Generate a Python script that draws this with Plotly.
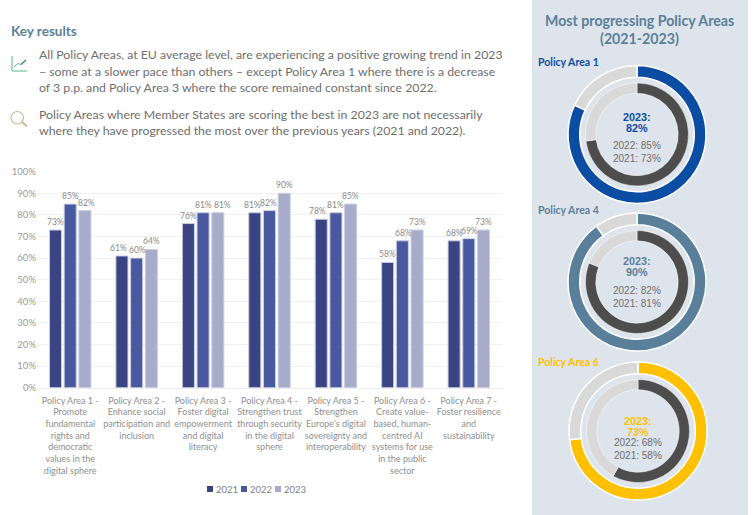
import plotly.graph_objects as go

W, H = 754, 515

categories = [
    "Policy Area 1 -<br>Promote<br>fundamental<br>rights and<br>democratic<br>values in the<br>digital sphere",
    "Policy Area 2 -<br>Enhance social<br>participation and<br>inclusion",
    "Policy Area 3 -<br>Foster digital<br>empowerment<br>and digital<br>literacy",
    "Policy Area 4 -<br>Strengthen trust<br>through security<br>in the digital<br>sphere",
    "Policy Area 5 -<br>Strengthen<br>Europe's digital<br>sovereignty and<br>interoperability",
    "Policy Area 6 -<br>Create value-<br>based, human-<br>centred AI<br>systems for use<br>in the public<br>sector",
    "Policy Area 7 -<br>Foster resilience<br>and<br>sustainability",
]
values_2021 = [73, 61, 76, 81, 78, 58, 68]
values_2022 = [85, 60, 81, 82, 81, 68, 69]
values_2023 = [82, 64, 81, 90, 85, 73, 73]
series_names = ["2021", "2022", "2023"]
series_colors = ["#3A4483", "#4A58A0", "#A8ACCB"]

highlight_index = [0, 3, 5]
highlight_names = ["Policy Area 1", "Policy Area 4", "Policy Area 6"]
highlight_colors = ["#0B4DA2", "#5A7F9B", "#FFC000"]

heading = "Key results"
body_lines = [
    ("All Policy Areas, at EU average level, are experiencing a positive growing trend in 2023", 55),
    ("– some at a slower pace than others – except Policy Area 1 where there is a decrease", 71),
    ("of 3 p.p. and Policy Area 3 where the score remained constant since 2022.", 87),
    ("Policy Areas where Member States are scoring the best in 2023 are not necessarily", 114.5),
    ("where they have progressed the most over the previous years (2021 and 2022).", 130.5),
]

# Hand-placed sideways nudges of the reference's data labels, in pixels
label_nudge_2021 = [0, -3, 0, -2, -3.5, 0, 0]
label_nudge_2022 = [0, 1, 0, -1, 0, 1, 1]
label_nudge_2023 = [2, 0, 5, 0, 0, 0, 0]
BAR_PITCH = 14.7

FONT = "Lato"
fx = lambda x: x / W
fy = lambda y: 1 - y / H

fig = go.Figure()

anns = []
def text(x, y, s, size, color, bold=False, anchor="left", family=FONT):
    anns.append(dict(
        x=fx(x), y=fy(y), xref="paper", yref="paper", text=f"<b>{s}</b>" if bold else s,
        showarrow=False, xanchor=anchor, yanchor="middle",
        font=dict(family=family, size=size, color=color), borderpad=0,
    ))

all_values = [values_2021, values_2022, values_2023]
all_nudges = [label_nudge_2021, label_nudge_2022, label_nudge_2023]
for i, (name, vals, col, nudges) in enumerate(zip(series_names, all_values, series_colors, all_nudges)):
    fig.add_trace(go.Bar(
        x=categories, y=vals, name=name,
        marker=dict(color=col, line=dict(color="#C9CDE3", width=1)),
        cliponaxis=False, showlegend=False,
    ))
    for cat, v, dx in zip(categories, vals, nudges):
        anns.append(dict(
            x=cat, y=v, xref="x", yref="y", text=f"{v}%", showarrow=False,
            xanchor="center", yanchor="bottom", xshift=(i - 1) * BAR_PITCH + dx, yshift=2,
            font=dict(family=FONT, size=8.5, color="#8A8A8A"), borderpad=0,
        ))

# Donuts: outer ring = 2023, inner ring = 2021
centers = [(637, 134.5), (637, 282), (638, 431)]
R_OUT, R_IN = 69, 51.5
for (cx, cy), idx, col in zip(centers, highlight_index, highlight_colors):
    for r, hole, v, c, lw in [
        (R_OUT, 0.83, values_2023[idx], col, 1.5),
        (R_IN, 0.80, values_2021[idx], "#4D4D4D", 0.5),
    ]:
        fig.add_trace(go.Pie(
            values=[v, 100 - v], hole=hole, sort=False, direction="clockwise", rotation=0,
            marker=dict(colors=[c, "#D9D9D9"], line=dict(color="white", width=lw)),
            textinfo="none", hoverinfo="skip", showlegend=False,
            domain=dict(x=[fx(cx - r), fx(cx + r)], y=[fy(cy + r), fy(cy - r)]),
        ))

text(10, 31, heading, 13.5, "#5B7F9A", bold=True)
for s, y in body_lines:
    text(38, y, s, 12.3, "#6E6E6E")

text(639.5, 21, "Most progressing Policy Areas", 14.2, "#5B7F9A", True, "center")
text(639.5, 39, "(2021-2023)", 14.2, "#5B7F9A", True, "center")

ARIAL = "Liberation Sans"
label_pos = [(62, 116.5, 127.5, 145, 158), (210, 261, 272, 290, 303), (362, 421, 432, 442.5, 455)]
for (ly, y1, y2, y3, y4), idx, name, col, (cx, cy) in zip(label_pos, highlight_index, highlight_names, highlight_colors, centers):
    text(537, ly, name, 10.5, col, True)
    text(cx, y1, "2023:", 10.8, col, True, "center", ARIAL)
    text(cx, y2, f"{values_2023[idx]}%", 10.8, col, True, "center", ARIAL)
    text(cx, y3, f"2022: {values_2022[idx]}%", 10, "#6E6E6E", False, "center", ARIAL)
    text(cx, y4, f"2021: {values_2021[idx]}%", 10, "#6E6E6E", False, "center", ARIAL)

def seg(x0, y0, x1, y1, color, width=1.0):
    return dict(type="line", xref="paper", yref="paper", x0=fx(x0), y0=fy(y0), x1=fx(x1), y1=fy(y1),
                line=dict(color=color, width=width), layer="above")

green = "#5DB585"
tan = "#C9B99A"
shapes = [
    dict(type="rect", xref="paper", yref="paper", x0=fx(532), x1=fx(748), y0=0, y1=1,
         fillcolor="#DEE4EB", line=dict(width=0), layer="below"),
    seg(12, 56, 12, 71, green), seg(12, 71, 27, 71, green),
    seg(14, 67, 18, 63.5, green), seg(18, 63.5, 21, 64.5, green), seg(21, 64.5, 26, 60, "#3E8E63", 1.5),
    dict(type="circle", xref="paper", yref="paper", x0=fx(11), x1=fx(23.5), y0=fy(124), y1=fy(111.5),
         line=dict(color=tan, width=1.2), layer="above"),
    seg(22, 122, 27, 126.5, tan, 2),
]

# Compact legend matching the reference's small swatches
for i, (name, col) in enumerate(zip(series_names, series_colors)):
    lx = 207 + 34 * i
    shapes.append(dict(type="rect", xref="paper", yref="paper", x0=fx(lx), x1=fx(lx + 6), y0=fy(492), y1=fy(486),
                       fillcolor=col, line=dict(width=0), layer="above"))
    text(lx + 8, 489, name, 9.5, "#808080")

fig.update_layout(
    width=W, height=H, autosize=False,
    margin=dict(l=0, r=0, t=0, b=0),
    paper_bgcolor="white", plot_bgcolor="white",
    font=dict(family=FONT), showlegend=False,
    barmode="group", bargap=0.336, bargroupgap=0.18,
    xaxis=dict(domain=[fx(37), fx(502)], tickfont=dict(family=FONT, size=9, color="#8F8F8F"),
               tickangle=0, showgrid=False, linecolor="#EDEDED", linewidth=1, ticks="", automargin=False,
               ticklabelstandoff=4),
    yaxis=dict(domain=[fy(387.7), fy(171.7)], range=[0, 100], dtick=10, ticksuffix="%",
               tickfont=dict(family=FONT, size=9.5, color="#999999"), gridcolor="#F0F0F0", gridwidth=1,
               zeroline=False, ticks="", automargin=False),
    annotations=anns, shapes=shapes,
)

fig.write_html("out.html", config={"displayModeBar": False},
               post_script="document.body.style.margin='0';document.documentElement.style.overflow='hidden';")
